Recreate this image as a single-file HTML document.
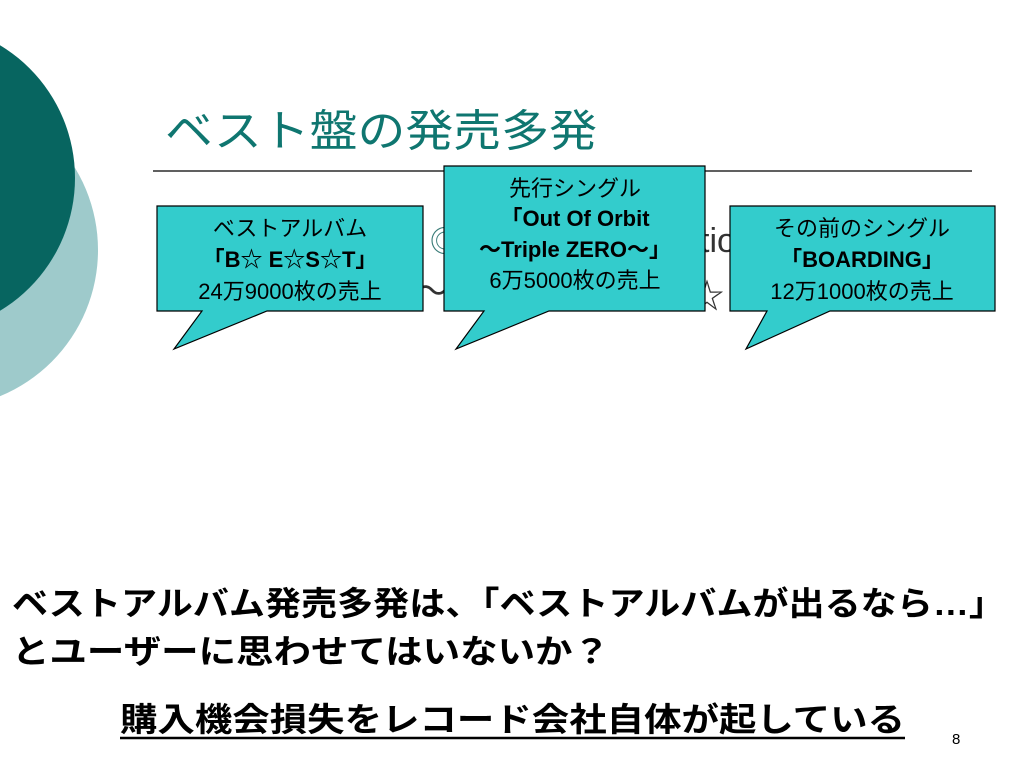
<!DOCTYPE html>
<html><head><meta charset="utf-8"><style>
html,body{margin:0;padding:0;background:#fff;width:1024px;height:768px;overflow:hidden}
svg{display:block}
</style></head><body>
<svg width="1024" height="768" viewBox="0 0 1024 768" xmlns="http://www.w3.org/2000/svg" font-family="'Liberation Sans','Noto Sans CJK JP',sans-serif">
<circle cx="-60" cy="250" r="158" fill="#9ecacb"/>
<circle cx="-80" cy="178" r="155" fill="#076560"/>
<text x="165" y="146" font-size="44" fill="#0f7670" textLength="432" lengthAdjust="spacingAndGlyphs">ベスト盤の発売多発</text>
<line x1="153" y1="171" x2="972" y2="171" stroke="#000" stroke-width="1.3"/>
<g fill="#333" font-size="34">
<text x="430" y="252" fill="#3a7c78" font-size="30">◎</text>
<text x="700" y="252">tio</text>
<text x="415" y="303">～</text>
<text x="690" y="308">☆</text>
<text x="860" y="306">を発売</text>
</g>
<g stroke="#000" stroke-width="1.2" fill="#33cccc">
<path d="M157,206 H423 V311 H267 L174,349 L202,311 H157 Z"/>
<path d="M444,166 H705 V311 H549 L456,349 L484,311 H444 Z"/>
<path d="M730,206 H995 V311 H830 L746,349 L767,311 H730 Z"/>
</g>
<g font-size="22" fill="#000" text-anchor="middle">
<text x="290" y="236">ベストアルバム</text>
<text x="290" y="267" font-weight="bold">「B☆ E☆S☆T」</text>
<text x="290" y="299">24万9000枚の売上</text>
<text x="575" y="196">先行シングル</text>
<text x="575" y="226" font-weight="bold">「Out Of Orbit</text>
<text x="575" y="257" font-weight="bold">～Triple ZERO～」</text>
<text x="575" y="288">6万5000枚の売上</text>
<text x="862" y="236">その前のシングル</text>
<text x="862" y="267" font-weight="bold">「BOARDING」</text>
<text x="862" y="299">12万1000枚の売上</text>
</g>
<g font-size="33" font-weight="bold" fill="#000">
<text x="12" y="615" textLength="993" lengthAdjust="spacingAndGlyphs">ベストアルバム発売多発は、「ベストアルバムが出るなら…」</text>
<text x="12" y="663" textLength="598" lengthAdjust="spacingAndGlyphs">とユーザーに思わせてはいないか？</text>
<text x="120" y="731" textLength="785" lengthAdjust="spacingAndGlyphs">購入機会損失をレコード会社自体が起している</text>
</g>
<line x1="120" y1="738" x2="905" y2="738" stroke="#000" stroke-width="2.5"/>
<text x="952" y="744" font-size="15" fill="#000">8</text>
</svg>
</body></html>
